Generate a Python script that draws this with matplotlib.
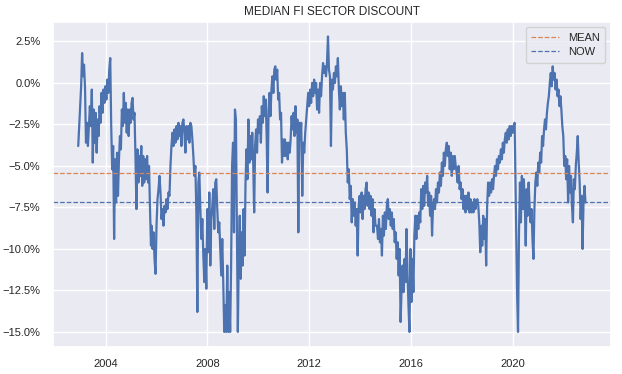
import numpy as np
import pandas as pd
import matplotlib
matplotlib.use("Agg")
import matplotlib.pyplot as plt
import matplotlib.dates as mdates
from matplotlib.ticker import MultipleLocator, PercentFormatter
import seaborn as sns

# ---- data (median FI sector discount, %) ----
seg_2003_2005 = [-3.8, -2.6, -1.3, -0.2, 1.8, 0.4, 1.1, -0.3, -3.6, -2.4, -3.8, -2.6, -1.4, -2.6, -0.4, -4.8,
                 -1.6, -3.6, -1.8, -4.2, -2.2, -3.2, -1.4, -2.4, -0.6, -1.8, -0.4, -1.2, -0.2, -1.0, 0.2, -0.6,
                 0.8, 1.5, -2.6, -5.2, -3.8, -9.4, -4.6, -7.2, -4.2, -6.8, -4.6, -3.2, -4.0, -1.6, -2.6, -0.6,
                 -2.4, -1.2, -3.0, -1.6, -3.2, -1.6, -2.4, -1.2, -0.9, -2.2, -1.8, -4.4, -7.6, -4.0, -6.0, -4.4,
                 -5.6, -3.8, -6.2, -4.4, -6.0, -4.6, -5.8, -4.4, -6.0, -5.0, -7.6, -9.8]
seg_2005_2008 = [-8.6, -10.0, -9.0, -10.6, -11.5, -8.6, -7.0, -6.4, -5.6, -6.6, -8.2, -7.6, -8.6, -7.4, -7.8, -7.0,
                 -7.6, -6.6, -6.8, -5.0, -3.8, -3.0, -3.8, -2.8, -3.6, -2.6, -3.4, -2.4, -3.2, -2.6, -3.8, -2.4,
                 -2.2, -3.0, -4.2, -2.6, -3.4, -2.6, -3.6, -2.4, -2.6, -3.4, -4.4, -5.6, -5.0, -7.8, -13.8, -6.0,
                 -5.4, -7.6, -9.4, -8.2, -10.4, -12.0, -10.0, -12.4, -7.6, -10.2, -6.6, -11.0, -8.2, -7.4, -6.4,
                 -8.8, -6.0, -5.8, -7.6, -9.0, -8.4, -10.0, -11.6, -9.4, -12.0, -15.0, -13.4, -15.0]
seg_2008_2011 = [-11.0, -15.0, -12.6, -15.0, -11.0, -5.0, -3.6, -9.0, -1.6, -2.2, -8.8, -15.0, -10.4, -8.0, -11.8,
                 -9.0, -11.0, -7.6, -10.4, -6.0, -4.0, -5.8, -2.2, -4.8, -3.2, -4.6, -3.0, -4.8, -7.8, -3.8, -2.8,
                 -4.2, -2.2, -3.0, -2.0, -3.6, -1.4, -2.4, -0.8, -2.0, -1.0, -3.2, -6.6, -1.6, -0.6, -2.0, -0.4,
                 0.4, -0.6, 0.8, 1.0, 0.2, 0.8, -1.0, -0.6, -2.2, -1.8, -4.8, -3.4, -4.4, -3.4, -4.4, -3.6, -4.6,
                 -3.6, -4.2, -3.4, -2.0, -2.8, -1.8, -3.2, -1.4, -3.0, -2.2, -9.0, -2.4, -3.4, -2.4]
seg_2011_2014 = [-6.8, -3.6, -4.2, -3.0, -2.2, -1.4, -0.6, -1.4, -0.4, -1.2, 0.0, -0.8, 0.2, -0.6, 0.0, -1.6, -0.4,
                 -1.8, 0.0, -0.8, 0.4, 1.2, 0.6, 1.0, 0.4, 1.2, 2.8, 0.8, 0.4, -3.8, 0.2, -0.4, 0.6, 0.0, 1.0, 0.4,
                 1.5, -0.4, -1.6, -0.2, -1.4, -0.6, -2.2, -0.6, -3.0, -4.0, -6.0, -5.2, -7.0, -6.2, -8.4, -7.0,
                 -8.0, -7.2, -8.6, -7.6, -10.4, -7.4, -6.8, -7.8, -6.6, -8.2, -6.8, -7.6, -6.4, -6.0, -7.4, -6.6,
                 -7.6, -6.8, -8.0, -7.0, -9.0, -7.6, -8.6]
seg_2014_2017 = [-8.6, -9.4, -8.2, -9.6, -8.8, -10.4, -8.0, -9.2, -7.8, -8.8, -7.4, -7.0, -8.2, -7.6, -8.6, -7.8,
                 -8.8, -8.2, -9.6, -9.0, -10.6, -9.6, -11.6, -10.0, -14.4, -12.4, -11.0, -12.6, -10.6, -12.0, -8.8,
                 -11.4, -13.4, -15.0, -10.0, -13.2, -10.6, -12.6, -9.2, -8.0, -9.4, -8.0, -8.8, -7.8, -8.4, -6.4,
                 -7.6, -6.2, -7.4, -6.0, -6.6, -5.6, -7.4, -6.6, -8.0, -6.8, -9.2, -7.4, -7.0, -7.6, -6.4, -7.2,
                 -6.0, -6.6, -5.4, -6.2, -4.8, -5.6, -4.2, -5.0, -4.0, -3.6, -4.4, -3.8, -5.2, -4.2]
seg_2017_2020 = [-5.6, -4.4, -5.2, -4.4, -5.0, -5.4, -6.0, -5.0, -6.4, -6.0, -7.0, -6.4, -7.6, -6.8, -7.8, -6.8,
                 -7.6, -6.6, -7.8, -7.0, -7.8, -7.2, -7.8, -7.0, -7.6, -7.2, -7.0, -7.4, -8.4, -10.2, -8.6, -9.8,
                 -8.0, -9.4, -8.2, -11.0, -7.4, -6.0, -6.8, -6.0, -6.6, -5.8, -6.4, -5.6, -5.0, -5.6, -4.6, -5.2,
                 -4.4, -4.8, -4.0, -4.6, -3.6, -4.2, -3.4, -3.0, -3.6, -2.8, -3.4, -2.6, -3.2, -2.6, -3.0, -2.6,
                 -2.4, -6.6]
seg_2020_2022 = [-8.8, -12.6, -15.0, -9.0, -6.0, -8.4, -5.6, -7.6, -5.8, -7.2, -9.8, -6.4, -8.0, -6.0, -7.4, -8.4,
                 -7.6, -9.4, -10.6, -7.6, -6.0, -5.4, -6.2, -4.8, -5.4, -4.2, -4.8, -3.2, -3.8, -2.8, -2.2, -2.8,
                 -1.8, -1.2, -0.8, 0.0, 0.6, -0.2, 1.0, 0.2, 0.6, -0.4, 0.2, -0.8, -0.4, -1.4, -0.8, -1.6, -2.6,
                 -3.2, -5.0, -4.4, -5.8, -4.6, -7.2, -5.0, -6.6, -5.6, -7.4, -8.4, -5.8, -6.4, -5.0, -4.2, -3.2,
                 -4.8, -6.0, -8.2, -6.8, -10.0, -7.2, -6.2, -7.2]

segments = [seg_2003_2005, seg_2005_2008, seg_2008_2011, seg_2011_2014,
            seg_2014_2017, seg_2017_2020, seg_2020_2022]
segment_spans = [("2002-12-02", "2005-10-12"), ("2005-10-20", "2008-09-27"),
                 ("2008-10-12", "2011-09-09"), ("2011-09-24", "2014-08-11"),
                 ("2014-09-02", "2017-07-27"), ("2017-08-11", "2020-02-14"),
                 ("2020-02-21", "2022-11-13")]

mean_level = -5.45
title_text = "MEDIAN FI SECTOR DISCOUNT"
legend_labels = ["MEAN", "NOW"]

# ---- build series ----
dates = []
values = []
for seg, (s, e) in zip(segments, segment_spans):
    dates.extend(pd.date_range(s, e, periods=len(seg)))
    values.extend(seg)
series = pd.Series(values, index=pd.DatetimeIndex(dates))
now_level = series.iloc[-1]

# ---- plot ----
sns.set_theme(style="darkgrid")
plt.rcParams["font.family"] = ["Liberation Sans", "DejaVu Sans"]

fig = plt.figure(figsize=(6.22, 3.74), dpi=100)
ax = fig.add_axes([0.085, 0.073, 0.897, 0.869])

pal = sns.color_palette()
ax.plot(series.index, series.values, color=pal[0], lw=1.6)
ax.axhline(mean_level, color=pal[1], ls="--", lw=0.9, label=legend_labels[0])
ax.axhline(now_level, color=pal[0], ls="--", lw=0.9, label=legend_labels[1])

ax.yaxis.set_major_locator(MultipleLocator(2.5))
ax.yaxis.set_major_formatter(PercentFormatter(xmax=100, decimals=1))
ax.xaxis.set_major_locator(mdates.YearLocator(4))
ax.xaxis.set_major_formatter(mdates.DateFormatter("%Y"))
ax.tick_params(labelsize=8, colors="#262626", pad=3)

ax.set_title(title_text, fontsize=8.5, color="#262626", pad=5)
ax.legend(loc="upper right", fontsize=8, handlelength=2.5, borderpad=0.5,
          labelspacing=0.4, handletextpad=0.8)

fig.savefig("out.png", dpi=100)
